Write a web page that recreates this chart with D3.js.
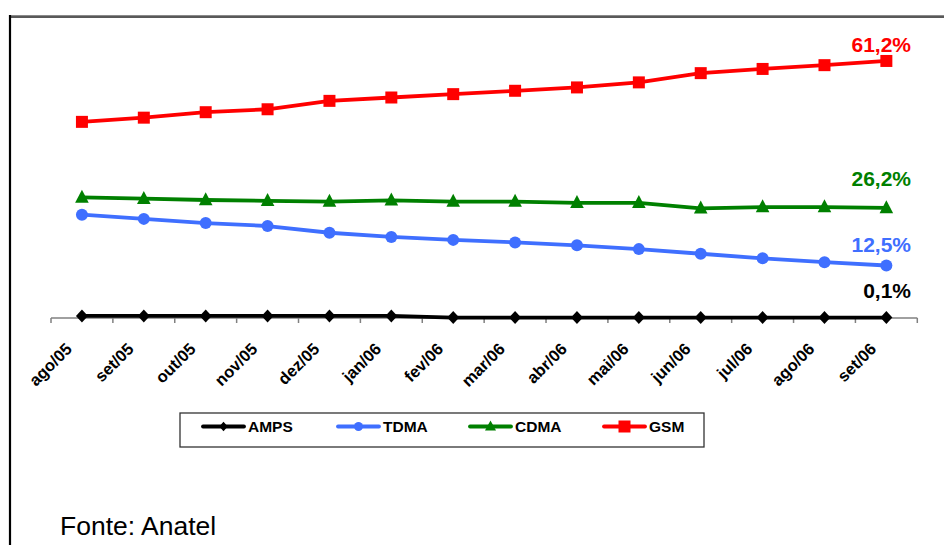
<!DOCTYPE html>
<html>
<head>
<meta charset="utf-8">
<script src="https://cdn.jsdelivr.net/npm/d3@7"></script>
<style>
  html, body { margin: 0; padding: 0; background: #fff; }
  svg { display: block; font-family: Arial, "Liberation Sans", sans-serif; }
</style>
</head>
<body>
<svg id="chart" width="944" height="545"></svg>
<script>
// Market share by technology (%), Aug/2005 – Sep/2006
const months = ["ago/05","set/05","out/05","nov/05","dez/05","jan/06","fev/06",
                "mar/06","abr/06","mai/06","jun/06","jul/06","ago/06","set/06"];
const amps = [0.5, 0.5, 0.5, 0.5, 0.5, 0.5, 0.1, 0.1, 0.1, 0.1, 0.1, 0.1, 0.1, 0.1];
const tdma = [24.6, 23.6, 22.6, 21.9, 20.3, 19.3, 18.6, 18.0, 17.3, 16.4, 15.3, 14.2, 13.3, 12.5];
const cdma = [28.7, 28.4, 28.1, 27.9, 27.7, 28.0, 27.7, 27.7, 27.4, 27.4, 26.1, 26.4, 26.4, 26.2];
const gsm  = [46.7, 47.7, 49.0, 49.7, 51.7, 52.5, 53.3, 54.1, 54.9, 56.1, 58.3, 59.3, 60.2, 61.2];
const seriesNames = ["AMPS", "TDMA", "CDMA", "GSM"];
const endLabels = ["0,1%", "12,5%", "26,2%", "61,2%"];
const source = "Fonte: Anatel";

const svg = d3.select("#chart");

// outer frame (open to the right and bottom)
svg.append("line").attr("x1", 9).attr("x2", 944).attr("y1", 15.5).attr("y2", 15.5)
   .attr("stroke", "#8a8a8a").attr("stroke-width", 1);
svg.append("line").attr("x1", 9).attr("x2", 944).attr("y1", 17).attr("y2", 17)
   .attr("stroke", "#222").attr("stroke-width", 1.5);
svg.append("line").attr("x1", 10).attr("x2", 10).attr("y1", 15).attr("y2", 545)
   .attr("stroke", "#000").attr("stroke-width", 2.2);

const x = d3.scaleBand().domain(months).range([51, 917.3]);
const cx = d => x(d) + x.bandwidth() / 2;
const y = d3.scaleLinear().domain([0, 70]).range([318, 24]);

// category axis
const axisG = svg.append("g").attr("transform", "translate(0,318)");
axisG.append("line").attr("x1", 51).attr("x2", 917.3)
     .attr("stroke", "#808080").attr("stroke-width", 1.5);
const tickPos = months.map(m => x(m)).concat([917.3]);
axisG.selectAll("line.tick").data(tickPos).enter().append("line")
     .attr("class", "tick")
     .attr("x1", d => d).attr("x2", d => d).attr("y1", 0).attr("y2", 5)
     .attr("stroke", "#808080").attr("stroke-width", 1.5);

svg.append("g").selectAll("text").data(months).enter().append("text")
   .attr("transform", d => `translate(${cx(d) - 9},350) rotate(-45)`)
   .attr("text-anchor", "end")
   .attr("font-size", 16.5).attr("font-weight", "bold").attr("fill", "#000")
   .text(d => d);

// marker shapes
const diamondPath = (w, h) => `M0,${-h}L${w},0L0,${h}L${-w},0Z`;
const trianglePath = (w, h) => `M0,${-h * 0.6}L${w},${h * 0.4}L${-w},${h * 0.4}Z`;
const markers = {
  AMPS: {big: () => diamondPath(6, 6.5), small: () => diamondPath(4.2, 4.8)},
  TDMA: {big: () => d3.symbol(d3.symbolCircle, Math.PI * 36)(), small: () => d3.symbol(d3.symbolCircle, Math.PI * 20)()},
  CDMA: {big: () => trianglePath(6.8, 13), small: () => trianglePath(5.5, 10)},
  GSM:  {big: () => "M-6,-6H6V6H-6Z", small: () => "M-6,-6H6V6H-6Z"}
};
const colors = {AMPS: "#000000", TDMA: "#3F6FFF", CDMA: "#008000", GSM: "#FF0000"};
const values = {AMPS: amps, TDMA: tdma, CDMA: cdma, GSM: gsm};

const line = d3.line().x((d, i) => cx(months[i])).y(d => y(d));

seriesNames.forEach(name => {
  const g = svg.append("g");
  g.append("path").datum(values[name])
   .attr("d", line).attr("fill", "none")
   .attr("stroke", colors[name]).attr("stroke-width", 3.8)
   .attr("stroke-linejoin", "round");
  g.selectAll("path.mk").data(values[name]).enter().append("path")
   .attr("class", "mk")
   .attr("transform", (d, i) => `translate(${cx(months[i])},${y(d)})`)
   .attr("d", markers[name].big())
   .attr("fill", colors[name]);
});

// end-of-series value labels
const labelBaselines = [298, 252, 186, 52];
svg.append("g").selectAll("text").data(seriesNames).enter().append("text")
   .attr("x", 911).attr("y", (d, i) => labelBaselines[i])
   .attr("text-anchor", "end")
   .attr("font-size", 21).attr("font-weight", "bold")
   .attr("fill", d => colors[d])
   .text((d, i) => endLabels[i]);

// legend
const legend = svg.append("g");
legend.append("rect").attr("x", 180).attr("y", 413).attr("width", 524).attr("height", 34)
      .attr("fill", "#fff").attr("stroke", "#333").attr("stroke-width", 1.3);
const legendX = [203, 338, 470, 604];
seriesNames.forEach((name, i) => {
  const lg = legend.append("g").attr("transform", `translate(${legendX[i]},426.5)`);
  lg.append("line").attr("x1", 0).attr("x2", 41)
    .attr("stroke", colors[name]).attr("stroke-width", 3.8).attr("stroke-linecap", "round");
  lg.append("path").attr("transform", "translate(20.5,0)")
    .attr("d", markers[name].small()).attr("fill", colors[name]);
  lg.append("text").attr("x", 45).attr("y", 5.5)
    .attr("font-size", 15.5).attr("font-weight", "bold").attr("fill", "#000")
    .text(name);
});

// source note
svg.append("text").attr("x", 60).attr("y", 535)
   .attr("font-size", 26.5).attr("fill", "#000")
   .text(source);
</script>
</body>
</html>
